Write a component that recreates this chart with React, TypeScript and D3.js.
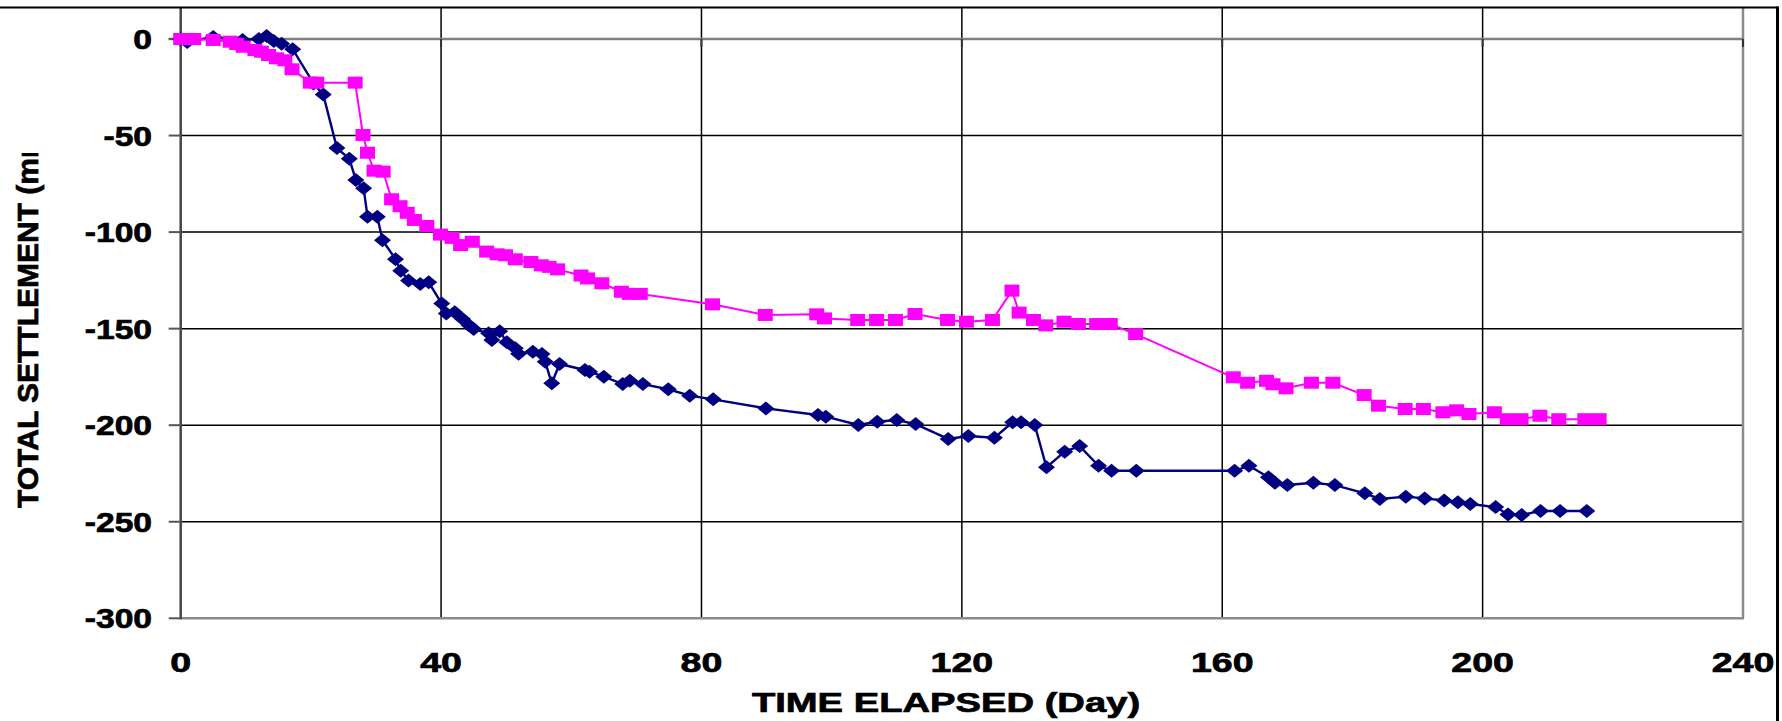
import React, { useEffect, useRef } from 'react';
import * as d3 from 'd3';

// axis ticks
const xTicks = [0, 40, 80, 120, 160, 200, 240];
const yTicks = [0, -50, -100, -150, -200, -250, -300];

// navy series (diamonds)
const navyDays = [0, 1, 5, 9.5, 12, 13.2, 14.3, 15.5, 17.2, 20.4, 21.9, 24, 25.9, 26.9, 28.1, 28.7, 30.2, 31, 33, 33.8, 35, 36.8, 38.1, 40.1, 40.8, 42.1, 43.3, 44.3, 45, 47.3, 47.8, 49, 50.1, 51.4, 51.9, 54.1, 55.5, 56, 57, 58.2, 62.1, 62.8, 65, 67.9, 69, 71, 74.9, 78.2, 81.8, 89.9, 97.9, 99.1, 104.1, 107, 110, 112.9, 117.9, 121, 125, 127.8, 129.1, 131.2, 133, 135.8, 138.1, 141, 143, 146.8, 161.9, 164.1, 167.1, 168.1, 170, 174, 177.3, 181.9, 184.2, 188.2, 191.1, 194.1, 196.2, 198.1, 202, 203.9, 206, 208.9, 211.9, 216];
const navySettlement = [0, -1.5, 1, -0.5, 0, 1.5, -1, -2.5, -5.3, -23, -28.8, -56.5, -62, -73, -77.3, -92, -92, -104.2, -114, -120, -125, -126.9, -126, -137, -142.2, -141.5, -145, -148.2, -150.2, -152.4, -155.9, -151.3, -157, -160.2, -163, -161.9, -163.1, -167.1, -178.3, -168.3, -171.4, -172.3, -174.9, -178.7, -177, -178.7, -181.4, -184.7, -186.6, -191.3, -194.7, -195.6, -199.9, -198.2, -197.3, -199.4, -207.1, -205.6, -206.5, -198.5, -198.5, -199.9, -221.8, -213.7, -210.8, -221, -223.6, -223.6, -223.6, -221, -227, -229.8, -231, -229.8, -231, -235.3, -238.2, -237, -237.9, -239, -239.9, -240.8, -242.4, -246.2, -246.5, -244.4, -244.4, -244.4];

// magenta series (squares)
const pinkDays = [0, 1, 2, 5, 7.6, 8.6, 9.6, 11.4, 12.4, 13.5, 14.7, 16, 17.1, 19.9, 20.9, 26.8, 28, 28.7, 29.7, 31.1, 32.4, 33.7, 34.8, 35.9, 37.8, 39.9, 41.7, 43, 44.8, 47, 48.6, 49.9, 51.4, 53.8, 55.4, 56.6, 57.9, 61.5, 62.5, 64.7, 67.7, 68.9, 70.6, 81.7, 89.8, 97.7, 98.9, 104, 106.9, 109.8, 112.8, 117.8, 120.7, 124.7, 127.7, 128.8, 131, 132.9, 135.7, 137.9, 140.7, 142.8, 146.7, 161.7, 163.9, 166.8, 167.8, 169.8, 173.7, 177, 181.8, 184, 188.1, 190.9, 193.9, 196, 197.9, 201.8, 203.8, 205.9, 208.8, 211.7, 215.7, 217.9];
const pinkSettlement = [0, 0, 0, -0.5, -1.4, -2.6, -4, -5.7, -6.6, -8.3, -10, -11, -15.7, -22.6, -22.6, -22.6, -49.7, -58.9, -68.2, -68.7, -83, -86.6, -90, -93.7, -96.8, -101.3, -103, -106.7, -105, -110.1, -111.5, -112, -114.1, -115.5, -117.2, -118, -119.3, -122.5, -124, -126.5, -130.9, -132, -132, -137.4, -142.9, -142.6, -144.7, -145.5, -145.5, -145.5, -142.4, -145.5, -146.4, -145.5, -130.3, -141.7, -145.5, -148.3, -146.4, -147.6, -147.6, -147.6, -152.8, -175.2, -178, -177, -178.8, -180.9, -178, -178, -184.4, -189.9, -191.6, -191.6, -193.3, -192.3, -194.2, -193.3, -196.9, -196.9, -195.1, -196.9, -196.9, -196.9];

const xTitle = 'TIME ELAPSED (Day)';
const yTitle = 'TOTAL SETTLEMENT (mm)';

export default function App() {
    const svgRef = useRef<SVGSVGElement>(null);

    useEffect(() => {
        if (!svgRef.current) return;
        document.body.style.margin = '0';

        const svg = d3.select(svgRef.current);
        svg.selectAll('*').remove();

        // plot box
        const left = 180.7;
        const right = 1743;
        const top = 8;
        const bottom = 618.3;
        const zeroY = 39;
        const font = '"Liberation Sans", Arial, sans-serif';
        const stretch = 1.34;

        const x = d3.scaleLinear().domain([0, 240]).range([left, right]);
        const y = d3.scaleLinear().domain([-300, 0]).range([bottom, zeroY]);

        svg.append('rect').attr('width', 1782).attr('height', 721).attr('fill', '#fff');

        // gridlines
        svg.append('g')
            .selectAll('line')
            .data(yTicks.filter(t => t !== 0 && t !== -300))
            .enter()
            .append('line')
            .attr('x1', left).attr('x2', right)
            .attr('y1', d => y(d)).attr('y2', d => y(d))
            .attr('stroke', '#000').attr('stroke-width', 1.5);

        svg.append('g')
            .selectAll('line')
            .data(xTicks.filter(t => t !== 0 && t !== 240))
            .enter()
            .append('line')
            .attr('x1', d => x(d)).attr('x2', d => x(d))
            .attr('y1', top).attr('y2', bottom)
            .attr('stroke', '#000').attr('stroke-width', 1.5);

        // plot border (right, bottom)
        svg.append('line').attr('x1', right).attr('x2', right).attr('y1', top).attr('y2', bottom)
            .attr('stroke', '#8a8a8a').attr('stroke-width', 2.5);
        svg.append('line').attr('x1', left).attr('x2', right + 1).attr('y1', bottom).attr('y2', bottom)
            .attr('stroke', '#8a8a8a').attr('stroke-width', 2.5);

        // x axis crossing at zero
        svg.append('line').attr('x1', left - 12).attr('x2', right).attr('y1', zeroY).attr('y2', zeroY)
            .attr('stroke', '#808080').attr('stroke-width', 2.5);
        svg.append('g')
            .selectAll('line')
            .data(xTicks)
            .enter()
            .append('line')
            .attr('x1', d => x(d)).attr('x2', d => x(d))
            .attr('y1', zeroY).attr('y2', zeroY + 8)
            .attr('stroke', '#333').attr('stroke-width', 2);

        // y axis
        svg.append('line').attr('x1', left).attr('x2', left).attr('y1', top).attr('y2', bottom + 1)
            .attr('stroke', '#444').attr('stroke-width', 2.5);
        svg.append('g')
            .selectAll('line')
            .data(yTicks)
            .enter()
            .append('line')
            .attr('x1', left - 12).attr('x2', left)
            .attr('y1', d => y(d)).attr('y2', d => y(d))
            .attr('stroke', '#555').attr('stroke-width', 2);

        // chart frame (top, right)
        svg.append('line').attr('x1', 0).attr('x2', 1778).attr('y1', 7.5).attr('y2', 7.5)
            .attr('stroke', '#000').attr('stroke-width', 2);
        svg.append('line').attr('x1', 1777.5).attr('x2', 1777.5).attr('y1', 6.5).attr('y2', 721)
            .attr('stroke', '#000').attr('stroke-width', 3);

        // heavy bold text, like the original export
        const heavy = (sel: any, size: string) => sel
            .style('font-family', font)
            .style('font-weight', 'bold')
            .style('font-size', size)
            .attr('fill', '#000')
            .attr('stroke', '#000')
            .attr('stroke-width', 0.7);

        // tick labels
        svg.append('g')
            .selectAll('text')
            .data(yTicks)
            .enter()
            .append('text')
            .attr('transform', d => `translate(152,${y(d) + 10}) scale(1.2,1)`)
            .attr('text-anchor', 'end')
            .call(heavy, '28px')
            .text(d => d);

        svg.append('g')
            .selectAll('text')
            .data(xTicks)
            .enter()
            .append('text')
            .attr('transform', d => `translate(${x(d)},671.5) scale(${stretch},1)`)
            .attr('text-anchor', 'middle')
            .call(heavy, '28px')
            .text(d => d);

        // axis titles
        svg.append('text')
            .attr('transform', `translate(946,712) scale(${stretch},1)`)
            .attr('text-anchor', 'middle')
            .call(heavy, '28.5px')
            .text(xTitle);

        svg.append('clipPath').attr('id', 'ytitle-clip')
            .append('rect').attr('x', 0).attr('y', 153).attr('width', 60).attr('height', 568);
        svg.append('g')
            .attr('clip-path', 'url(#ytitle-clip)')
            .append('text')
            .attr('transform', 'translate(38,508) rotate(-90)')
            .attr('text-anchor', 'start')
            .call(heavy, '30px')
            .text(yTitle);

        // series
        const navy = navyDays.map((d, i) => [d, navySettlement[i]] as [number, number]);
        const pink = pinkDays.map((d, i) => [d, pinkSettlement[i]] as [number, number]);
        const line = d3.line<[number, number]>().x(d => x(d[0])).y(d => y(d[1]));

        svg.append('path').datum(navy)
            .attr('d', line).attr('fill', 'none')
            .attr('stroke', '#000080').attr('stroke-width', 2.4);
        svg.append('g')
            .selectAll('path')
            .data(navy)
            .enter()
            .append('path')
            .attr('d', d => {
                const cx = x(d[0]);
                const cy = y(d[1]);
                return `M${cx},${cy - 7}L${cx + 8.5},${cy}L${cx},${cy + 7}L${cx - 8.5},${cy}Z`;
            })
            .attr('fill', '#000080');

        svg.append('path').datum(pink)
            .attr('d', line).attr('fill', 'none')
            .attr('stroke', '#ff00ff').attr('stroke-width', 2);
        svg.append('g')
            .selectAll('rect')
            .data(pink)
            .enter()
            .append('rect')
            .attr('x', d => x(d[0]) - 7.5)
            .attr('y', d => y(d[1]) - 6)
            .attr('width', 15)
            .attr('height', 12)
            .attr('fill', '#ff00ff');
    }, []);

    return <svg ref={svgRef} width={1782} height={721} style={{ display: 'block' }} />;
}
